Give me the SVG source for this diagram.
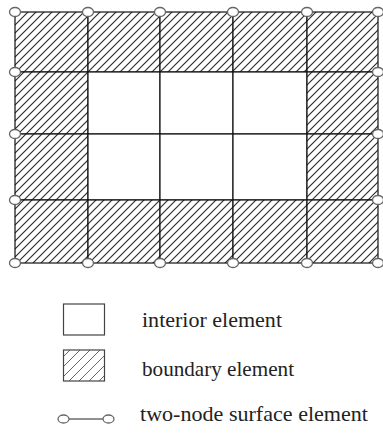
<svg xmlns="http://www.w3.org/2000/svg" width="383" height="434" viewBox="0 0 383 434">
<style>
.cell{stroke:#111;stroke-width:1.2}
.hatch{fill:url(#h)}
.blank{fill:#fff}
.node{fill:#fff;stroke:#666;stroke-width:1.3}
.lbl{font-family:"Liberation Serif","Times New Roman",serif;font-size:21px;fill:#222}
.conn{stroke:#222;stroke-width:1.2;fill:none}
</style>
<defs>
<pattern id="h" patternUnits="userSpaceOnUse" width="8" height="8">
<rect width="8" height="8" fill="#fff"/>
<path d="M-2,2 L2,-2 M0,8 L8,0 M6,10 L10,6" stroke="#2a2a2a" stroke-width="1.15"/>
</pattern>
<pattern id="hl" patternUnits="userSpaceOnUse" width="10" height="10">
<rect width="10" height="10" fill="#fff"/>
<path d="M-2,2 L2,-2 M0,10 L10,0 M8,12 L12,8" stroke="#666" stroke-width="1"/>
</pattern>
</defs>
<rect width="383" height="434" fill="#fff"/>
<g id="mesh">
<g id="cell-r0c0"><rect class="cell hatch" x="15" y="12" width="73" height="60"/></g>
<g id="cell-r0c1"><rect class="cell hatch" x="88" y="12" width="72" height="60"/></g>
<g id="cell-r0c2"><rect class="cell hatch" x="160" y="12" width="73" height="60"/></g>
<g id="cell-r0c3"><rect class="cell hatch" x="233" y="12" width="74" height="60"/></g>
<g id="cell-r0c4"><rect class="cell hatch" x="307" y="12" width="71" height="60"/></g>
<g id="cell-r1c0"><rect class="cell hatch" x="15" y="72" width="73" height="62"/></g>
<g id="cell-r1c1"><rect class="cell blank" x="88" y="72" width="72" height="62"/></g>
<g id="cell-r1c2"><rect class="cell blank" x="160" y="72" width="73" height="62"/></g>
<g id="cell-r1c3"><rect class="cell blank" x="233" y="72" width="74" height="62"/></g>
<g id="cell-r1c4"><rect class="cell hatch" x="307" y="72" width="71" height="62"/></g>
<g id="cell-r2c0"><rect class="cell hatch" x="15" y="134" width="73" height="66"/></g>
<g id="cell-r2c1"><rect class="cell blank" x="88" y="134" width="72" height="66"/></g>
<g id="cell-r2c2"><rect class="cell blank" x="160" y="134" width="73" height="66"/></g>
<g id="cell-r2c3"><rect class="cell blank" x="233" y="134" width="74" height="66"/></g>
<g id="cell-r2c4"><rect class="cell hatch" x="307" y="134" width="71" height="66"/></g>
<g id="cell-r3c0"><rect class="cell hatch" x="15" y="200" width="73" height="63"/></g>
<g id="cell-r3c1"><rect class="cell hatch" x="88" y="200" width="72" height="63"/></g>
<g id="cell-r3c2"><rect class="cell hatch" x="160" y="200" width="73" height="63"/></g>
<g id="cell-r3c3"><rect class="cell hatch" x="233" y="200" width="74" height="63"/></g>
<g id="cell-r3c4"><rect class="cell hatch" x="307" y="200" width="71" height="63"/></g>
</g>
<g id="surface-nodes">
<ellipse class="node" cx="15" cy="12" rx="5.5" ry="4.5"/>
<ellipse class="node" cx="88" cy="12" rx="5.5" ry="4.5"/>
<ellipse class="node" cx="160" cy="12" rx="5.5" ry="4.5"/>
<ellipse class="node" cx="233" cy="12" rx="5.5" ry="4.5"/>
<ellipse class="node" cx="307" cy="12" rx="5.5" ry="4.5"/>
<ellipse class="node" cx="378" cy="12" rx="5.5" ry="4.5"/>
<ellipse class="node" cx="15" cy="72" rx="5.5" ry="4.5"/>
<ellipse class="node" cx="378" cy="72" rx="5.5" ry="4.5"/>
<ellipse class="node" cx="15" cy="134" rx="5.5" ry="4.5"/>
<ellipse class="node" cx="378" cy="134" rx="5.5" ry="4.5"/>
<ellipse class="node" cx="15" cy="200" rx="5.5" ry="4.5"/>
<ellipse class="node" cx="378" cy="200" rx="5.5" ry="4.5"/>
<ellipse class="node" cx="15" cy="263" rx="5.5" ry="4.5"/>
<ellipse class="node" cx="88" cy="263" rx="5.5" ry="4.5"/>
<ellipse class="node" cx="160" cy="263" rx="5.5" ry="4.5"/>
<ellipse class="node" cx="233" cy="263" rx="5.5" ry="4.5"/>
<ellipse class="node" cx="307" cy="263" rx="5.5" ry="4.5"/>
<ellipse class="node" cx="378" cy="263" rx="5.5" ry="4.5"/>
</g>
<g id="legend-interior">
<rect x="63.5" y="304" width="41" height="31" fill="#fff" stroke="#444" stroke-width="1.2"/>
<text class="lbl" x="142" y="327" textLength="140" lengthAdjust="spacingAndGlyphs">interior element</text>
</g>
<g id="legend-boundary">
<rect x="63.5" y="350" width="41" height="31" fill="url(#hl)" stroke="#444" stroke-width="1.2"/>
<text class="lbl" x="142" y="376" textLength="152" lengthAdjust="spacingAndGlyphs">boundary element</text>
</g>
<g id="legend-surface">
<g id="connectors"><line class="conn" x1="69" y1="419" x2="103" y2="419"/></g>
<ellipse class="node" cx="63.5" cy="419" rx="5.5" ry="4"/>
<ellipse class="node" cx="108.5" cy="419" rx="5.5" ry="4"/>
<text class="lbl" x="140" y="421" textLength="228" lengthAdjust="spacingAndGlyphs">two-node surface element</text>
</g>
</svg>
